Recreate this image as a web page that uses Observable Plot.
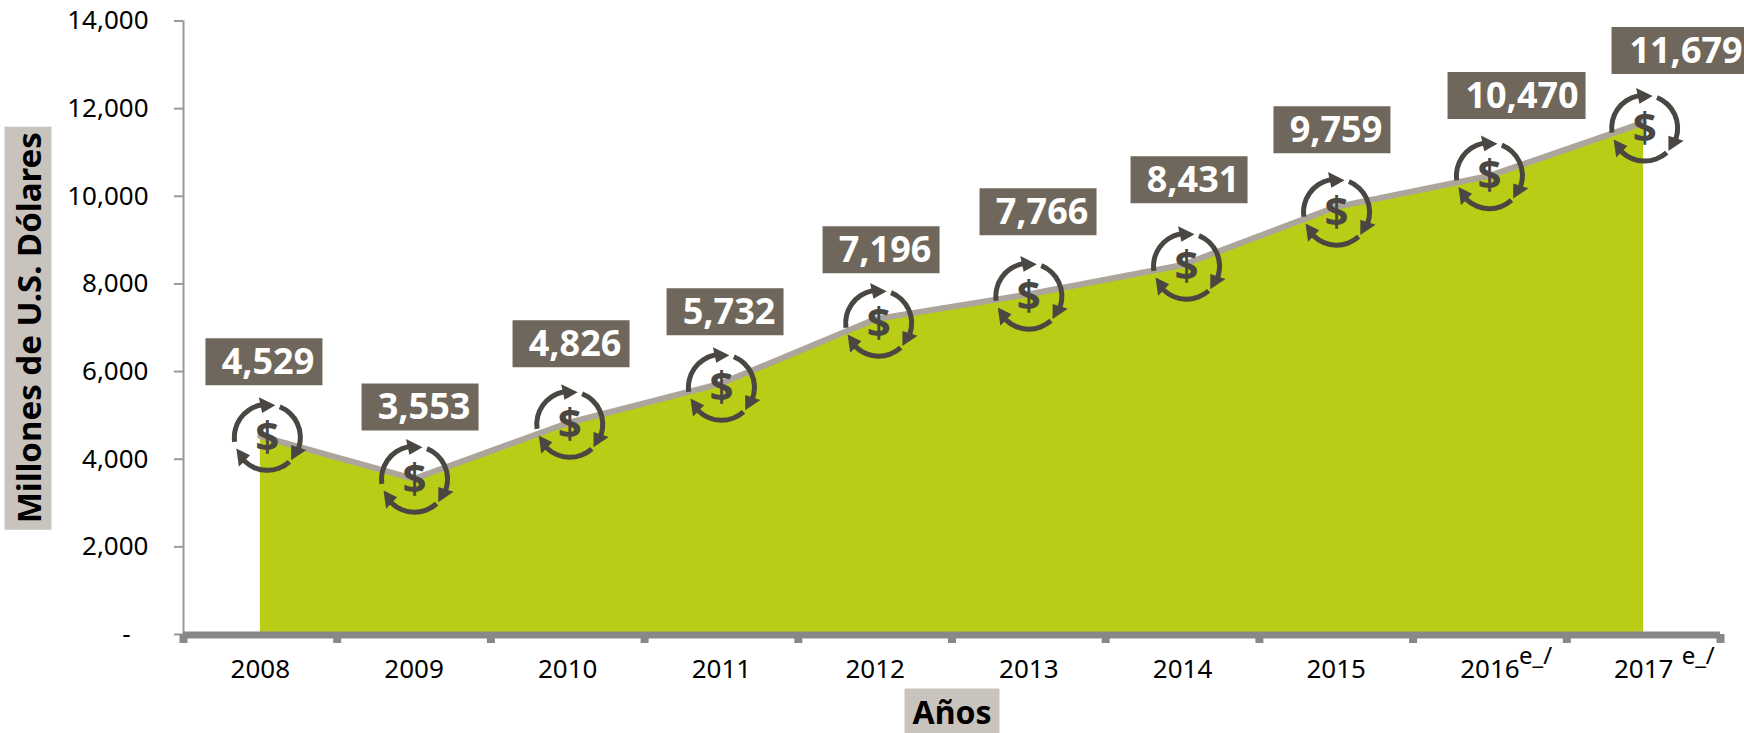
<!DOCTYPE html>
<html><head><meta charset="utf-8">
<script src="https://cdn.jsdelivr.net/npm/d3@7"></script>
<script src="https://cdn.jsdelivr.net/npm/@observablehq/plot@0.6"></script>
<style>html,body{margin:0;padding:0;background:#fff}svg{display:block}</style>
</head><body><div id="chart"></div>
<script>
const years = [2008,2009,2010,2011,2012,2013,2014,2015,2016,2017];
const values = [4529,3553,4826,5732,7196,7766,8431,9759,10470,11679];
const yTicks = [0,2000,4000,6000,8000,10000,12000,14000];
const bandEdges = [2007.5,2008.5,2009.5,2010.5,2011.5,2012.5,2013.5,2014.5,2015.5,2016.5,2017.5];
const yTitle = "Millones de U.S. Dólares";
const xTitle = "Años";
const footnote = "e_/";

// hand placement of the callouts relative to their data point, as in the source
const boxOffsetX = [3.6,6,3.3,3.6,5.9,9.2,6.5,-4.3,26.6,36.9];
const boxOffsetY = [-74.2,-71.9,-79.2,-71.5,-69.4,-82.5,-85.3,-77.2,-80.1,-72.1];
const iconOffsetX = [7,0.5,2,0,3.5,0,4,0.3,-0.5,1];
const iconOffsetY = [1.3,0.4,1.3,4,4,2,1.2,5.3,0,5.4];

const rows = years.map((year,i)=>({year,value:values[i],i}));
const fmt = d3.format(",");
const FONT = "'Noto Sans'";

const rectSymbol = (w,h)=>({draw(c){c.rect(-w/2,-h/2,w,h);}});
const cycleSymbol = {draw(c){
  const rad = a=>a*Math.PI/180, ro=35.5, ri=30.5, rm=33, hw=8;
  for(const tip of [284,44,160]){
    const a0=rad(tip-112), a1=rad(tip-26), t=rad(tip);
    c.moveTo(ro*Math.cos(a0),ro*Math.sin(a0));
    c.arc(0,0,ro,a0,a1,false);
    c.lineTo(ri*Math.cos(a1),ri*Math.sin(a1));
    c.arc(0,0,ri,a1,a0,true);
    c.closePath();
    c.moveTo((rm+hw)*Math.cos(a1),(rm+hw)*Math.sin(a1));
    c.lineTo(rm*Math.cos(t),rm*Math.sin(t));
    c.lineTo((rm-hw)*Math.cos(a1),(rm-hw)*Math.sin(a1));
    c.closePath();
  }
}};

const callouts = rows.flatMap(d=>{
  const w = d.value>=10000?138:117;
  const at = {x:"year",y:"value"};
  const bx=boxOffsetX[d.i], by=boxOffsetY[d.i], ix=iconOffsetX[d.i], iy=iconOffsetY[d.i];
  return [
    Plot.dot([d],{...at,r:10,symbol:cycleSymbol,fill:"#4a4642",stroke:"none",dx:ix,dy:iy}),
    Plot.text([d],{...at,text:()=>"$",fontSize:42,fontWeight:700,fill:"#4a4642",dx:ix,dy:iy}),
    Plot.dot([d],{...at,r:10,symbol:rectSymbol(w,47),fill:"#6f675b",stroke:"none",dx:bx,dy:by}),
    Plot.text([d],{...at,text:v=>fmt(v.value),fontSize:36,fontWeight:700,fill:"#fff",dx:bx+(w>117?5.5:4),dy:by+1})
  ];
});

const plot = Plot.plot({
  width:1744,height:733,
  marginLeft:183,marginRight:24,marginTop:20.5,marginBottom:99,
  style:{fontFamily:FONT,background:"#fff",color:"#000"},
  x:{domain:[2007.5,2017.5],label:null},
  y:{domain:[0,14000],label:null},
  marks:[
    Plot.areaY(rows,{x:"year",y:"value",fill:"#b9cd17"}),
    Plot.lineY(rows,{x:"year",y:"value",stroke:"#aca59b",strokeWidth:6}),
    Plot.ruleX([2007.5],{stroke:"#999",strokeWidth:2}),
    Plot.axisY({ticks:yTicks,tickSize:9,tickPadding:26,stroke:"#999",strokeWidth:2,fontSize:26,label:null,
      tickFormat:d=>d===0?"-\u00a0\u00a0\u2009":fmt(d)}),
    Plot.ruleY([0],{stroke:"#888",strokeWidth:7,dy:0.5}),
    Plot.axisX({ticks:bandEdges,tickSize:9,stroke:"#888",strokeWidth:8,tickFormat:()=>"",label:null}),
    Plot.axisX({ticks:years,tickSize:0,tickPadding:25,fontSize:26,tickFormat:d=>String(d),label:null}),
    Plot.text([years[8]],{x:d=>d,frameAnchor:"bottom",text:()=>footnote,fontSize:24,textAnchor:"start",dx:29,dy:29}),
    Plot.text([years[9]],{x:d=>d,frameAnchor:"bottom",text:()=>footnote,fontSize:24,textAnchor:"start",dx:38,dy:29}),
    ...callouts,
    Plot.dot([yTitle],{frameAnchor:"left",r:10,symbol:rectSymbol(47,403),fill:"#c8c3bc",stroke:"none",dx:-155.5,dy:0.5}),
    Plot.text([yTitle],{frameAnchor:"left",textAnchor:"middle",lineAnchor:"middle",rotate:-90,fontSize:33,fontWeight:700,fill:"#000",dx:-153.5,dy:0}),
    Plot.dot([xTitle],{frameAnchor:"bottom",r:10,symbol:rectSymbol(95,45),fill:"#c8c3bc",stroke:"none",dy:76.5}),
    Plot.text([xTitle],{frameAnchor:"bottom",fontSize:32,fontWeight:700,fill:"#000",dy:79,lineAnchor:"middle"})
  ]
});
document.getElementById("chart").append(plot);
</script></body></html>
